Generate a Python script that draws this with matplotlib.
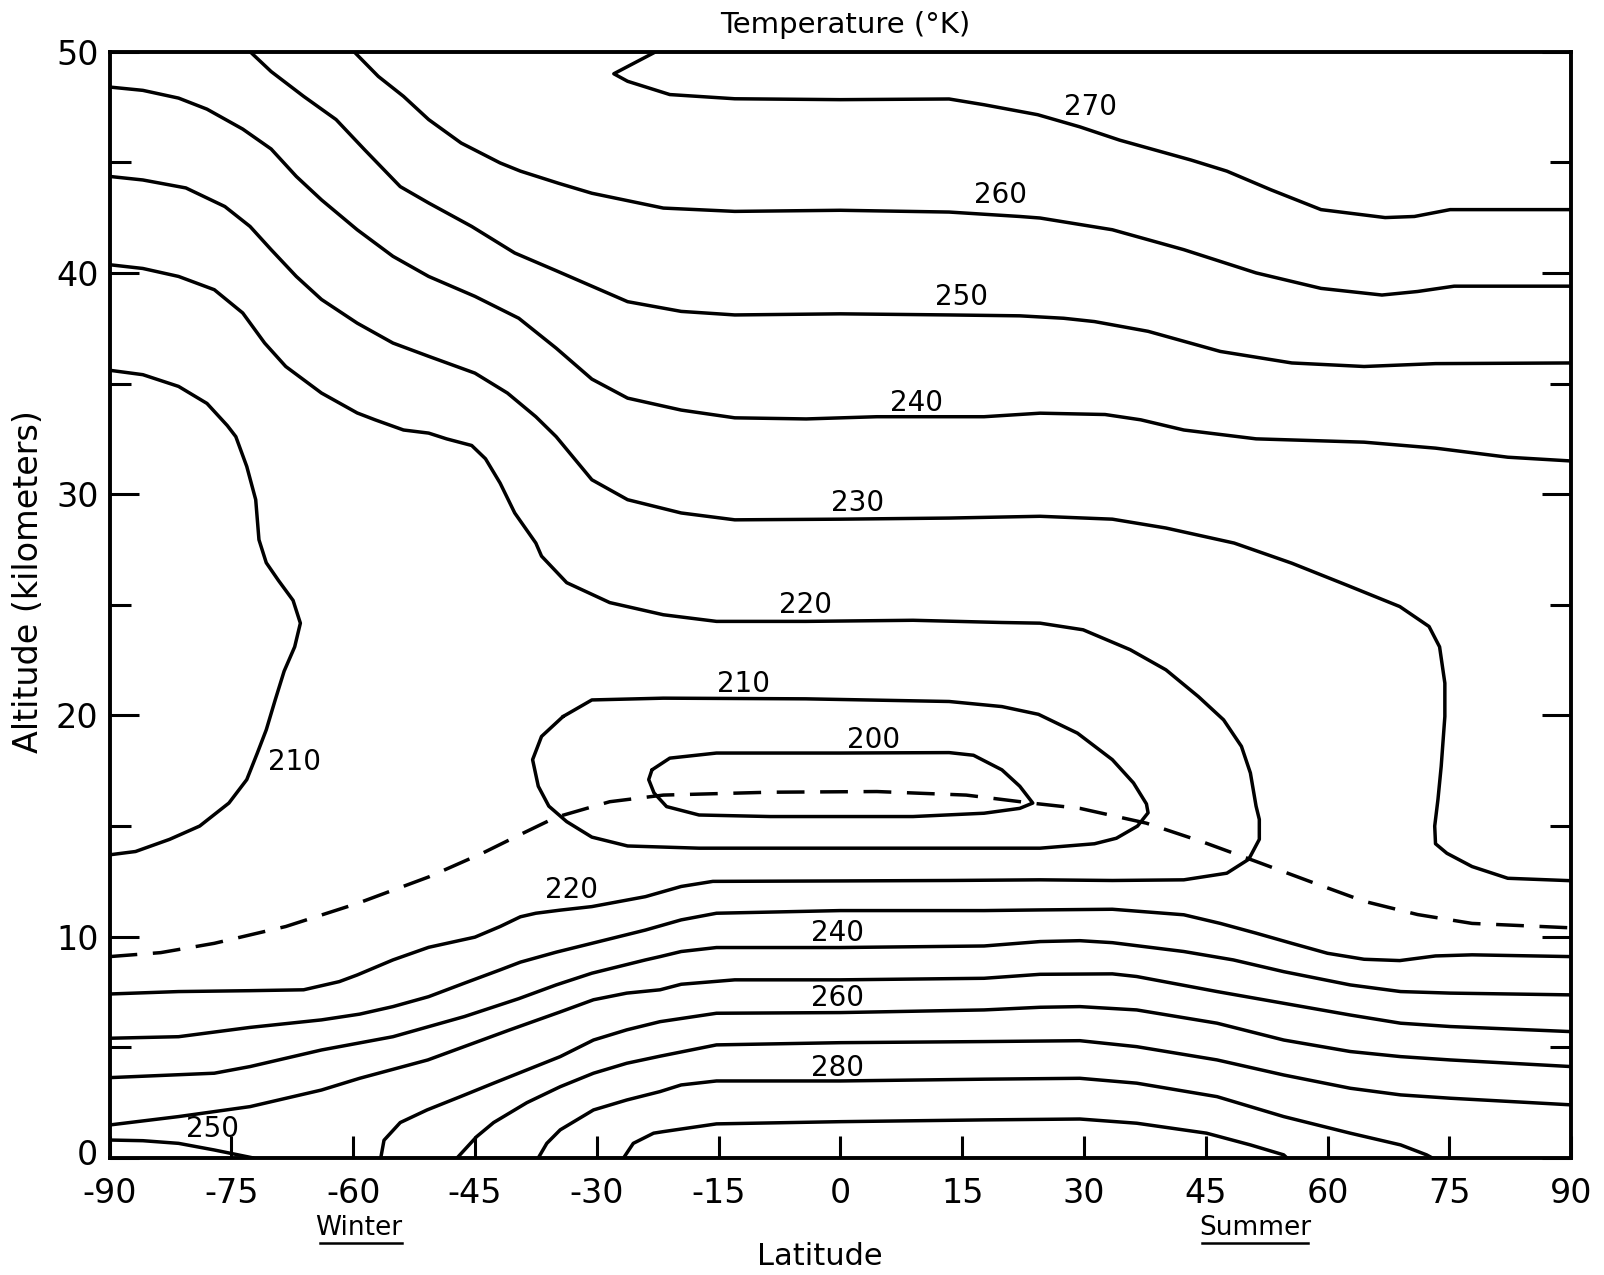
import matplotlib
matplotlib.use("Agg")
import matplotlib.pyplot as plt
from matplotlib.lines import Line2D
from matplotlib.transforms import ScaledTranslation

plt.rcParams['font.family'] = ['DejaVu Sans']
plt.rcParams['axes.unicode_minus'] = False

# ---------------- data (latitude in degrees, altitude in km) ----------------
lat_ticks = [-90, -75, -60, -45, -30, -15, 0, 15, 30, 45, 60, 75, 90]
lat_tick_labels = ["-90", "-75", "-60", "-45", "-30", "-15", "0", "15", "30", "45", "60", "75", "90"]
alt_ticks = [0, 10, 20, 30, 40, 50]
alt_tick_labels = ["0", "10", "20", "30", "40", "50"]
alt_minor_ticks = [5, 15, 25, 35, 45]

# 270 K (upper lobe)
c270_lat = [-22.7, -27.9, -26.2, -21.0, -13.0, 0.0, 13.4, 17.7, 24.3, 29.5, 34.4, 43.2, 47.6, 53.0, 59.2, 67.1, 70.7, 75.1, 90.0]
c270_alt = [50.0, 49.0, 48.66, 48.06, 47.87, 47.83, 47.86, 47.6, 47.15, 46.6, 46.0, 45.1, 44.6, 43.76, 42.86, 42.5, 42.55, 42.86, 42.86]

# 260 K (upper)
c260u_lat = [-59.9, -56.9, -53.8, -50.7, -46.7, -41.9, -39.4, -34.7, -30.6, -21.8, -13.0, 0.0, 13.4, 22.1, 24.6, 33.5, 42.3, 51.2, 59.2, 66.7, 71.1, 75.6, 90.0]
c260u_alt = [50.0, 48.88, 47.98, 46.93, 45.87, 44.97, 44.6, 44.05, 43.6, 42.93, 42.78, 42.83, 42.75, 42.55, 42.48, 41.95, 41.05, 40.0, 39.3, 39.0, 39.16, 39.4, 39.4]

# 250 K (upper)
c250u_lat = [-72.7, -70.1, -66.1, -62.1, -58.6, -54.2, -50.7, -45.4, -40.1, -35.0, -30.6, -26.2, -19.6, -13.0, 0.0, 13.4, 22.1, 27.5, 31.3, 37.9, 46.8, 55.6, 64.5, 73.3, 90.0]
c250u_alt = [50.0, 49.1, 47.98, 46.93, 45.57, 43.9, 43.16, 42.1, 40.9, 40.1, 39.4, 38.7, 38.26, 38.1, 38.15, 38.1, 38.06, 37.95, 37.8, 37.36, 36.45, 35.93, 35.77, 35.9, 35.93]

# 240 K (upper)
c240u_lat = [-90.0, -85.9, -81.5, -78.0, -73.6, -70.1, -67.0, -63.9, -59.5, -55.1, -50.7, -45.0, -39.6, -35.0, -30.6, -26.2, -19.6, -13.0, -4.2, 4.5, 17.7, 24.6, 32.6, 37.0, 42.3, 51.2, 64.5, 73.3, 82.2, 90.0]
c240u_alt = [48.4, 48.25, 47.9, 47.4, 46.5, 45.6, 44.36, 43.3, 41.95, 40.75, 39.84, 38.94, 37.95, 36.6, 35.2, 34.34, 33.8, 33.45, 33.4, 33.5, 33.5, 33.66, 33.6, 33.36, 32.9, 32.5, 32.35, 32.08, 31.67, 31.5]

# 230 K (upper, turning down near 74N)
c230u_lat = [-90.0, -85.9, -80.6, -75.8, -72.7, -70.1, -67.0, -63.9, -59.5, -55.1, -50.7, -45.0, -41.0, -37.5, -35.0, -30.6, -26.2, -19.6, -13.0, 0.0, 13.4, 24.6, 33.5, 40.1, 48.5, 55.6, 62.3, 68.9, 72.5, 73.8, 74.45, 74.45, 74.0, 73.6, 73.2, 73.3, 74.7, 77.8, 82.2, 90.0]
c230u_alt = [44.36, 44.2, 43.84, 43.0, 42.1, 41.05, 39.84, 38.8, 37.73, 36.83, 36.23, 35.47, 34.57, 33.5, 32.6, 30.65, 29.75, 29.15, 28.84, 28.87, 28.92, 29.0, 28.87, 28.47, 27.79, 26.88, 25.9, 24.92, 24.02, 23.1, 21.46, 19.95, 17.7, 16.2, 15.0, 14.2, 13.77, 13.17, 12.64, 12.53]

# 220 K (wraps from the upper stratosphere round to the lower troposphere)
c220_lat = [-90.0, -85.9, -81.5, -77.1, -73.6, -70.9, -68.3, -63.9, -59.5, -57.3, -53.8, -50.7, -48.5, -45.4, -43.7, -41.9, -40.1, -37.5, -36.8, -33.7, -28.4, -21.8, -15.25, -4.25, 8.95, 19.9, 24.6, 29.9, 35.7, 40.1, 44.1, 47.2, 49.4, 50.5, 51.2, 51.6, 51.6, 50.3, 47.6, 42.3, 33.5, 24.6, 13.4, 0.0, -15.7, -19.6, -24.0, -30.6, -34.5, -37.5, -39.4, -41.9, -45.0, -50.7, -55.1, -59.5, -61.7, -66.1, -72.7, -81.5, -90.0]
c220_alt = [40.37, 40.2, 39.84, 39.24, 38.19, 36.83, 35.77, 34.57, 33.67, 33.36, 32.9, 32.76, 32.5, 32.2, 31.6, 30.5, 29.15, 27.79, 27.2, 26.0, 25.1, 24.55, 24.25, 24.25, 24.3, 24.2, 24.17, 23.87, 22.97, 22.06, 20.85, 19.8, 18.6, 17.4, 15.9, 15.3, 14.4, 13.5, 12.87, 12.57, 12.54, 12.57, 12.54, 12.52, 12.5, 12.27, 11.81, 11.36, 11.2, 11.06, 10.9, 10.46, 9.98, 9.52, 8.95, 8.27, 7.97, 7.6, 7.56, 7.52, 7.41]

# 210 K (winter polar stratosphere)
c210p_lat = [-90.0, -85.9, -81.5, -78.0, -75.5, -74.45, -73.1, -72.0, -71.6, -70.7, -69.2, -67.4, -66.5, -67.2, -68.5, -69.6, -70.7, -71.8, -73.1, -75.3, -78.9, -82.6, -86.8, -90.0]
c210p_alt = [35.6, 35.4, 34.87, 34.1, 33.1, 32.6, 31.25, 29.75, 27.94, 26.9, 26.1, 25.2, 24.17, 23.1, 22.0, 20.7, 19.35, 18.3, 17.1, 16.04, 15.0, 14.4, 13.85, 13.7]

# 210 K (closed tropical loop)
c210t_lat = [-34.15, -30.6, -21.8, -4.25, 13.4, 19.9, 24.4, 29.2, 33.5, 36.1, 37.7, 37.9, 36.6, 34.0, 31.3, 24.6, 17.7, 0.0, -17.4, -26.2, -30.6, -33.7, -35.9, -37.2, -37.9, -36.8, -34.15]
c210t_alt = [19.95, 20.7, 20.78, 20.75, 20.63, 20.4, 20.05, 19.2, 18.0, 16.95, 16.0, 15.6, 15.0, 14.45, 14.2, 14.0, 14.0, 14.0, 14.0, 14.1, 14.5, 15.2, 15.9, 16.8, 18.0, 19.05, 19.95]

# 200 K (closed loop)
c200_lat = [-23.2, -21.0, -15.25, 0.0, 13.4, 16.4, 19.9, 22.1, 23.7, 22.1, 17.7, 8.95, -8.65, -17.4, -21.4, -22.95, -23.6, -23.2]
c200_alt = [17.54, 18.07, 18.3, 18.3, 18.32, 18.2, 17.54, 16.8, 16.04, 15.8, 15.58, 15.43, 15.43, 15.5, 15.88, 16.5, 17.1, 17.54]

# 230 K (lower)
c230l_lat = [-90.0, -81.5, -72.7, -63.9, -59.2, -55.1, -50.7, -46.3, -41.9, -39.4, -35.0, -30.6, -24.0, -19.6, -15.25, 0.0, 17.7, 24.6, 33.5, 42.3, 46.8, 51.2, 55.6, 60.0, 64.5, 68.9, 73.3, 77.8, 90.0]
c230l_alt = [5.41, 5.48, 5.9, 6.24, 6.5, 6.84, 7.29, 7.9, 8.5, 8.85, 9.3, 9.7, 10.3, 10.76, 11.06, 11.18, 11.18, 11.21, 11.24, 10.99, 10.6, 10.16, 9.7, 9.25, 8.98, 8.92, 9.13, 9.18, 9.1]

# 240 K (lower)
c240l_lat = [-90.0, -77.1, -72.7, -63.9, -59.2, -55.1, -46.3, -39.6, -35.0, -30.6, -24.0, -22.2, -19.6, -15.25, 0.0, 17.7, 24.6, 29.5, 33.5, 42.3, 48.4, 54.6, 62.8, 69.0, 75.1, 90.0]
c240l_alt = [3.63, 3.83, 4.13, 4.88, 5.2, 5.48, 6.39, 7.2, 7.82, 8.35, 8.95, 9.1, 9.33, 9.51, 9.51, 9.58, 9.78, 9.82, 9.73, 9.33, 8.95, 8.42, 7.82, 7.52, 7.45, 7.37]

# 250 K (lower, upper branch)
c250l_lat = [-90.0, -81.5, -72.7, -63.9, -59.2, -50.8, -40.7, -34.5, -30.4, -26.3, -22.2, -19.6, -13.0, 0.0, 17.7, 24.6, 33.5, 36.5, 46.4, 54.6, 62.8, 69.0, 75.1, 90.0]
c250l_alt = [1.49, 1.87, 2.32, 3.07, 3.6, 4.43, 5.79, 6.6, 7.15, 7.45, 7.6, 7.85, 8.05, 8.05, 8.12, 8.3, 8.32, 8.2, 7.52, 6.99, 6.46, 6.09, 5.94, 5.71]

# 250 K (surface inversion near the winter pole)
c250s_lat = [-90.0, -85.9, -81.5, -77.1, -72.3]
c250s_alt = [0.81, 0.78, 0.66, 0.36, 0.0]

# 260 K (lower)
c260l_lat = [-56.6, -56.2, -54.2, -50.9, -46.8, -42.7, -38.6, -34.5, -30.4, -26.3, -22.2, -15.25, 0.0, 17.7, 24.6, 29.5, 36.5, 46.4, 54.6, 62.8, 69.0, 75.1, 90.0]
c260l_alt = [0.0, 0.8, 1.6, 2.17, 2.77, 3.38, 3.98, 4.58, 5.33, 5.79, 6.16, 6.54, 6.57, 6.69, 6.81, 6.84, 6.69, 6.09, 5.33, 4.81, 4.58, 4.43, 4.13]

# 270 K (lower)
c270l_lat = [-47.2, -44.8, -42.7, -38.6, -34.5, -30.4, -26.3, -22.2, -15.25, 0.0, 17.7, 29.5, 36.5, 46.4, 54.6, 62.8, 69.0, 75.1, 90.0]
c270l_alt = [0.0, 0.96, 1.6, 2.5, 3.22, 3.83, 4.28, 4.6, 5.11, 5.21, 5.26, 5.3, 5.03, 4.43, 3.75, 3.15, 2.85, 2.7, 2.4]

# 280 K
c280_lat = [-37.2, -36.15, -34.5, -30.4, -26.3, -22.2, -19.6, -15.25, 0.0, 17.7, 29.5, 36.5, 46.4, 54.6, 62.8, 69.0, 72.2, 72.9]
c280_alt = [0.0, 0.66, 1.27, 2.17, 2.62, 3.0, 3.3, 3.48, 3.48, 3.56, 3.6, 3.38, 2.77, 1.87, 1.12, 0.59, 0.14, 0.0]

# 290 K
c290_lat = [-26.7, -25.5, -23.0, -21.8, -15.25, 0.0, 17.7, 29.5, 36.5, 45.1, 50.5, 54.6, 55.0]
c290_alt = [0.0, 0.66, 1.12, 1.19, 1.54, 1.64, 1.72, 1.76, 1.57, 1.12, 0.59, 0.14, 0.0]

# tropopause (dashed)
trop_lat = [-90.0, -83.7, -77.1, -68.3, -59.5, -50.7, -44.1, -39.4, -35.0, -28.4, -21.8, -8.65, 4.5, 15.5, 23.5, 29.5, 37.7, 44.5, 51.2, 57.8, 64.5, 71.1, 77.8, 90.0]
trop_alt = [9.1, 9.28, 9.7, 10.46, 11.5, 12.7, 13.77, 14.62, 15.4, 16.1, 16.4, 16.53, 16.56, 16.4, 16.04, 15.8, 15.13, 14.3, 13.4, 12.5, 11.6, 11.0, 10.6, 10.4]

# contour labels
label_texts = ["270", "260", "250", "240", "230", "220", "210", "200", "210", "220", "240", "260", "280", "250"]
label_lat = [30.8, 19.7, 14.9, 9.4, 2.1, -4.25, -11.95, 4.1, -67.2, -33.1, -0.3, -0.3, -0.3, -77.3]
label_alt = [47.5, 43.5, 38.9, 34.1, 29.6, 25.0, 21.4, 18.9, 17.9, 12.1, 10.16, 7.22, 4.06, 1.3]

solid_lines = [
    (c270_lat, c270_alt), (c260u_lat, c260u_alt), (c250u_lat, c250u_alt),
    (c240u_lat, c240u_alt), (c230u_lat, c230u_alt), (c220_lat, c220_alt),
    (c210p_lat, c210p_alt), (c210t_lat, c210t_alt), (c200_lat, c200_alt),
    (c230l_lat, c230l_alt), (c240l_lat, c240l_alt), (c250l_lat, c250l_alt),
    (c250s_lat, c250s_alt), (c260l_lat, c260l_alt), (c270l_lat, c270l_alt),
    (c280_lat, c280_alt), (c290_lat, c290_alt),
]

# ---------------- figure ----------------
fig = plt.figure(figsize=(16.04, 12.75), dpi=100)
ax = fig.add_axes([0.0683, 0.0918, 0.9112, 0.8677])
ax.set_xlim(-90, 90)
ax.set_ylim(0, 50)

for la, al in solid_lines:
    ax.plot(la, al, color='black', lw=2.5, solid_joinstyle='round', solid_capstyle='round')
ax.plot(trop_lat, trop_alt, color='black', lw=2.5, dashes=(8, 4.5))

for t, la, al in zip(label_texts, label_lat, label_alt):
    ax.text(la, al, t, ha='center', va='center', fontsize=20, color='black')

for s in ax.spines.values():
    s.set_linewidth(2.8)

ax.set_xticks(lat_ticks)
ax.set_xticklabels(lat_tick_labels)
ax.set_yticks(alt_ticks)
ax.set_yticklabels(alt_tick_labels)
ax.set_yticks(alt_minor_ticks, minor=True)
ax.tick_params(axis='x', which='major', direction='in', length=16, width=2.2,
               labelsize=24, pad=13.5, top=False, bottom=True)
ax.tick_params(axis='y', which='major', direction='in', length=21, width=2.2,
               labelsize=24, pad=8, left=True, right=True)
ax.tick_params(axis='y', which='minor', direction='in', length=15, width=2.2,
               left=True, right=True)

# nudge the "0" altitude label slightly up so it clears the "-90" label
fig.canvas.draw()
ylabs = ax.get_yticklabels()
if ylabs:
    ylabs[0].set_transform(ylabs[0].get_transform() +
                           ScaledTranslation(0, 4 / 72, fig.dpi_scale_trans))

fig.text(0.527, 0.9739, "Temperature (°K)", ha='center', va='baseline', fontsize=21)
fig.text(0.0178, 0.5435, "Altitude (kilometers)", ha='center', va='center',
         rotation=90, fontsize=24)
fig.text(0.511, 0.0075, "Latitude", ha='center', va='baseline', fontsize=22)

fig.text(0.2238, 0.0314, "Winter", ha='center', va='baseline', fontsize=19)
fig.text(0.7824, 0.0314, "Summer", ha='center', va='baseline', fontsize=19)
fig.add_artist(Line2D([0.1995, 0.2506], [0.0253, 0.0253], transform=fig.transFigure,
                      color='black', lw=1.8))
fig.add_artist(Line2D([0.7494, 0.8155], [0.0253, 0.0253], transform=fig.transFigure,
                      color='black', lw=1.8))

fig.savefig("out.png", dpi=100, facecolor='white')
